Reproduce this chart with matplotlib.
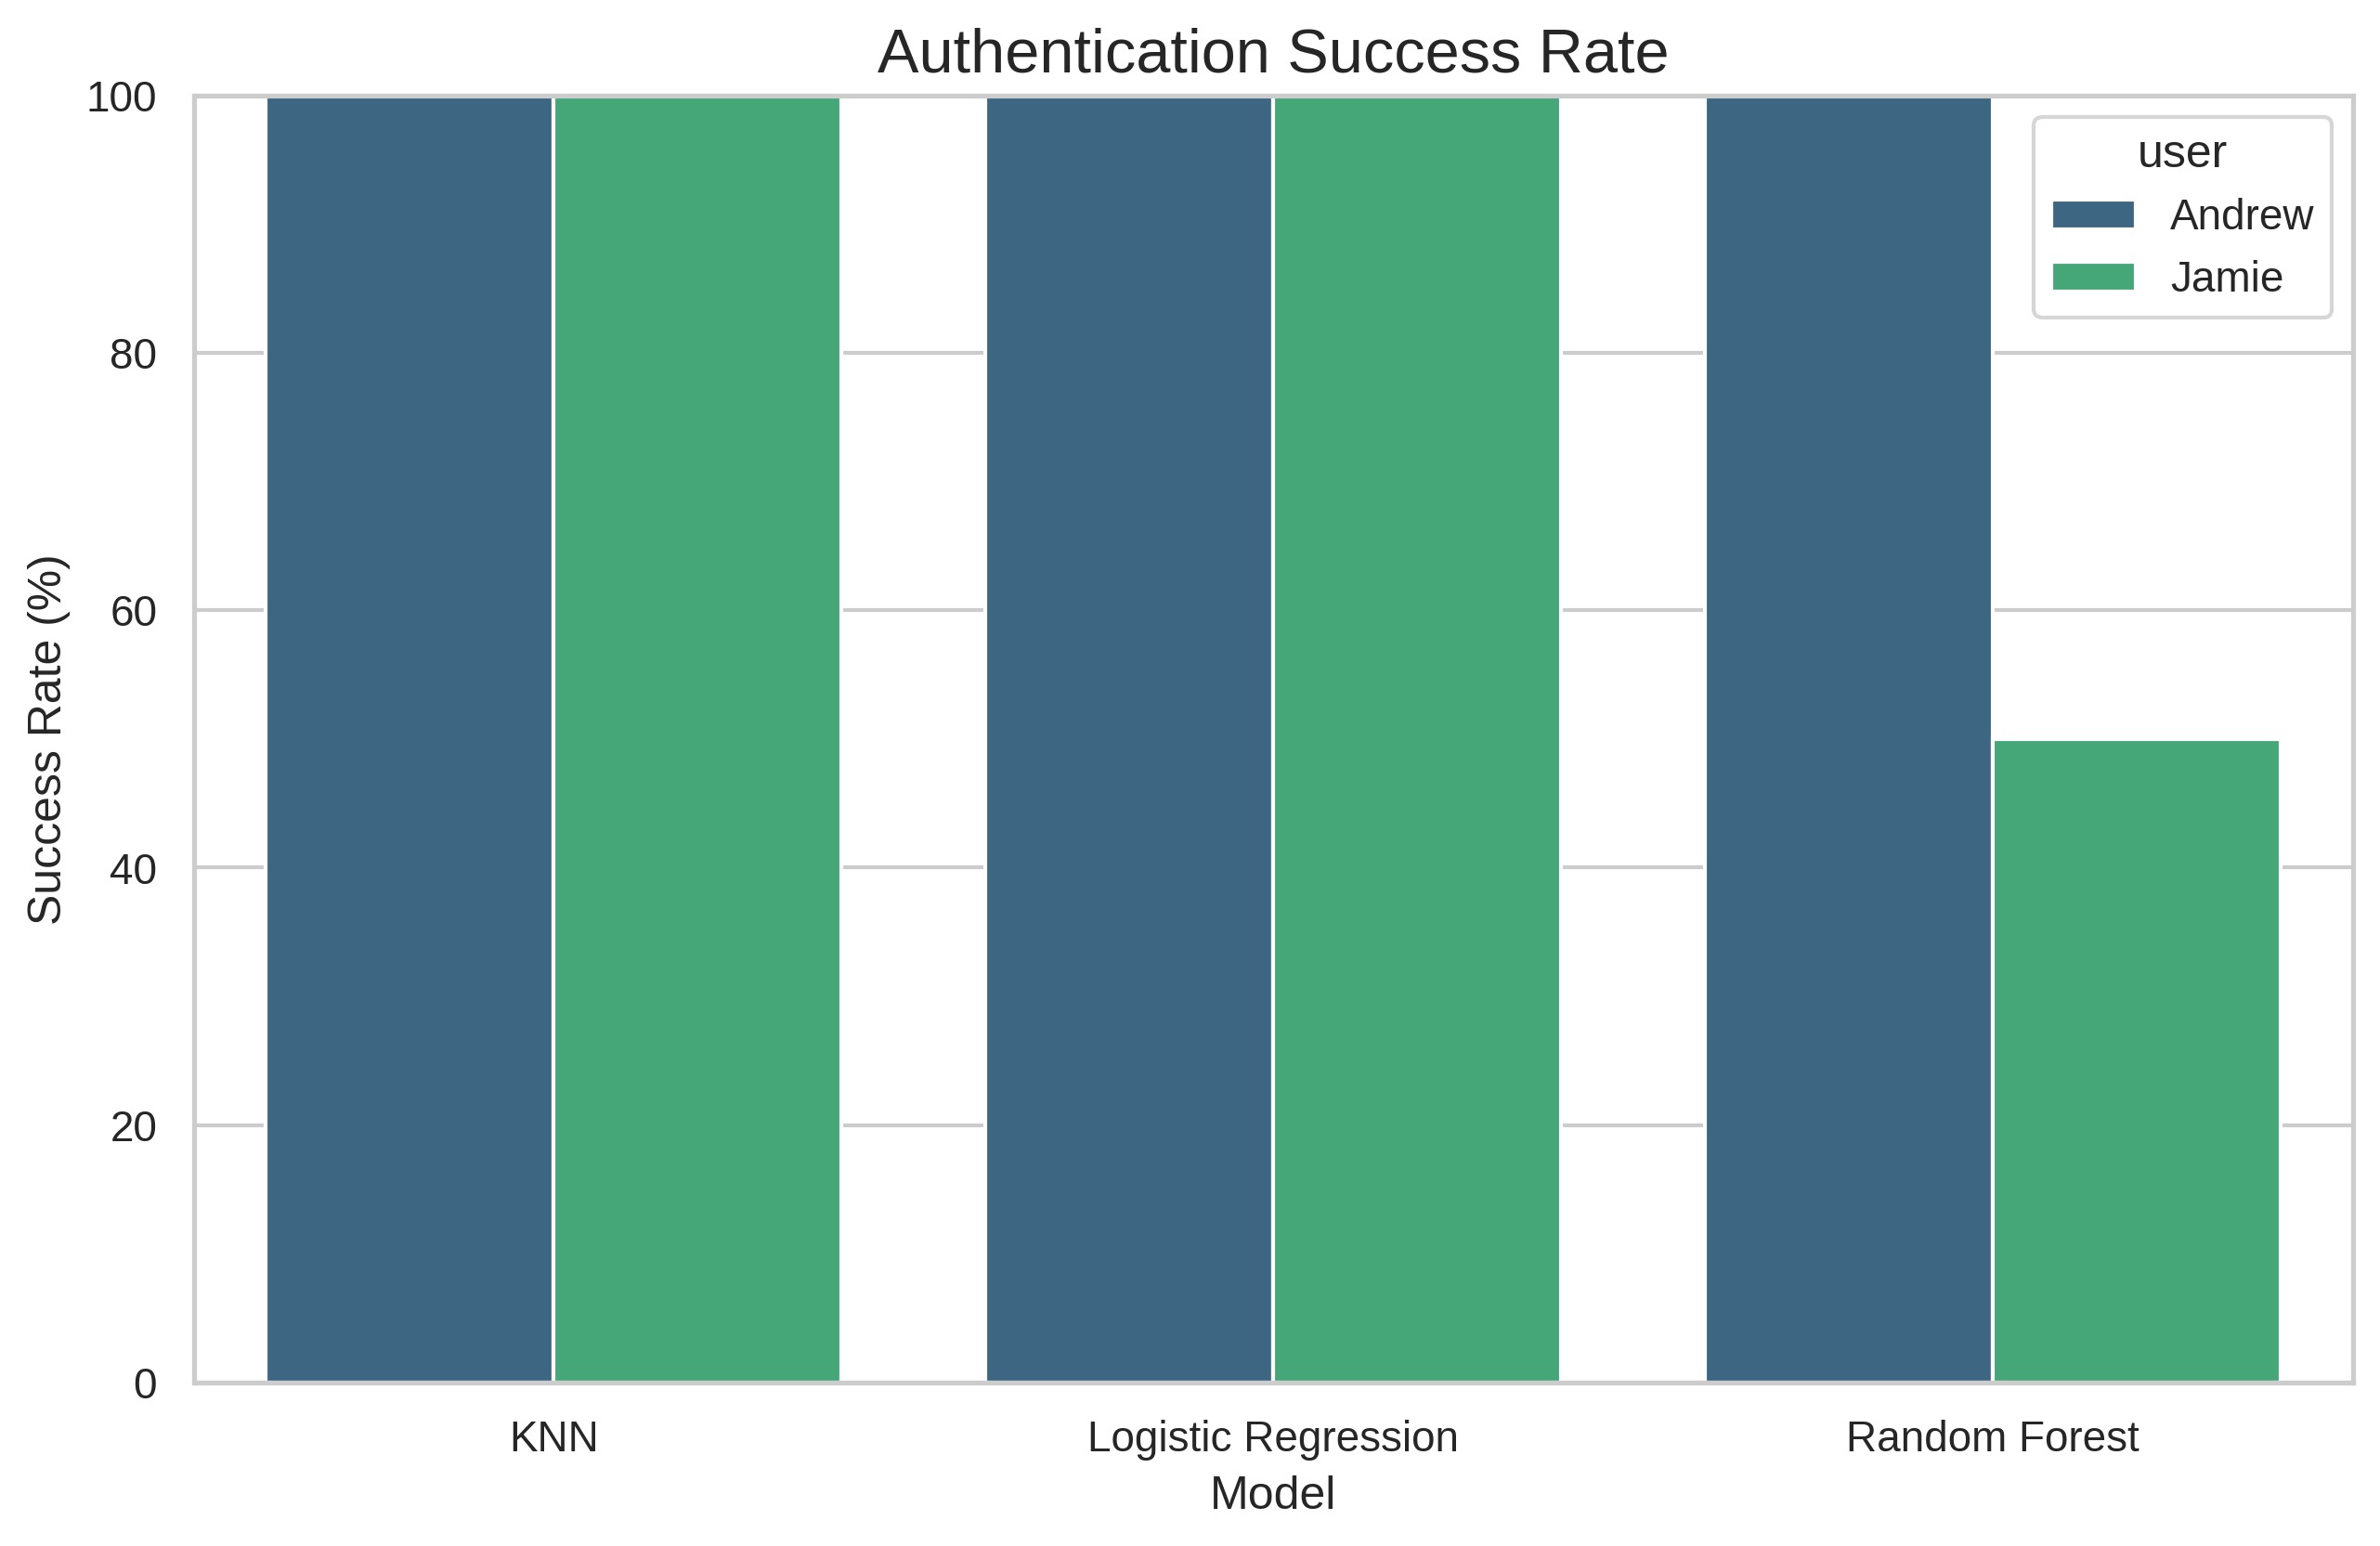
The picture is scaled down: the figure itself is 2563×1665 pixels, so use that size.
import matplotlib
matplotlib.use("Agg")
import matplotlib.pyplot as plt
import seaborn as sns
import pandas as pd

# success rate per model and user
models = ["KNN", "Logistic Regression", "Random Forest"]
users = ["Andrew", "Jamie"]
andrew_rates = [100, 100, 100]
jamie_rates = [100, 100, 50]

df = pd.DataFrame({
    "model": models * 2,
    "user": [users[0]] * 3 + [users[1]] * 3,
    "success_rate": andrew_rates + jamie_rates,
})

sns.set_theme(style="whitegrid")
plt.rcParams['font.family'] = ['Liberation Sans', 'DejaVu Sans']

plt.figure(figsize=(10, 6))
sns.barplot(data=df, x="model", y="success_rate", hue="user", palette="viridis")
plt.title("Authentication Success Rate", fontsize=16)
plt.xlabel("Model")
plt.ylabel("Success Rate (%)")
plt.ylim(0, 100)
plt.savefig("out.png", dpi=300, bbox_inches="tight")
